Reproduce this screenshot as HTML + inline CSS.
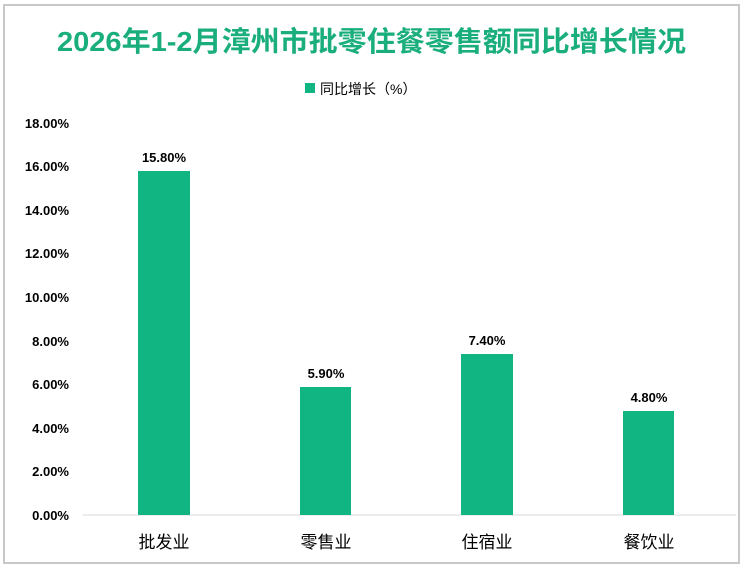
<!DOCTYPE html>
<html><head><meta charset="utf-8"><style>
body{margin:0;width:743px;height:570px;background:#fff;overflow:hidden}
</style></head><body>
<svg width="743" height="570" xmlns="http://www.w3.org/2000/svg" font-family="'Liberation Sans','Noto Sans CJK SC',sans-serif">
<rect x="4" y="5" width="735" height="558" fill="#fff" stroke="#c8c8c8" stroke-width="2"/>
<text x="57" y="51" textLength="629" lengthAdjust="spacingAndGlyphs" font-size="28" font-weight="bold" fill="#1aae7c">2026年1-2月漳州市批零住餐零售额同比增长情况</text>
<rect x="305" y="83" width="10" height="10" fill="#10b582"/>
<text x="320" y="94" font-size="14" fill="#000">同比增长（%）</text>
<g font-size="13" font-weight="bold" text-anchor="end" fill="#000">
<text x="69" y="520">0.00%</text>
<text x="69" y="476">2.00%</text>
<text x="69" y="433">4.00%</text>
<text x="69" y="389">6.00%</text>
<text x="69" y="346">8.00%</text>
<text x="69" y="302">10.00%</text>
<text x="69" y="258">12.00%</text>
<text x="69" y="215">14.00%</text>
<text x="69" y="171">16.00%</text>
<text x="69" y="128">18.00%</text>
</g>
<line x1="83" y1="515" x2="736" y2="515" stroke="#d9d9d9" stroke-width="1"/>
<g fill="#10b582">
<rect x="138" y="171" width="52" height="344"/>
<rect x="300" y="387" width="51" height="128"/>
<rect x="461" y="354" width="52" height="161"/>
<rect x="623" y="411" width="51" height="104"/>
</g>
<g font-size="13" font-weight="bold" text-anchor="middle" fill="#000">
<text x="164" y="162">15.80%</text>
<text x="326" y="378">5.90%</text>
<text x="487" y="345">7.40%</text>
<text x="649" y="402">4.80%</text>
</g>
<g font-size="17" text-anchor="middle" fill="#000">
<text x="164" y="548">批发业</text>
<text x="326" y="548">零售业</text>
<text x="487" y="548">住宿业</text>
<text x="649" y="548">餐饮业</text>
</g>
</svg>
</body></html>
